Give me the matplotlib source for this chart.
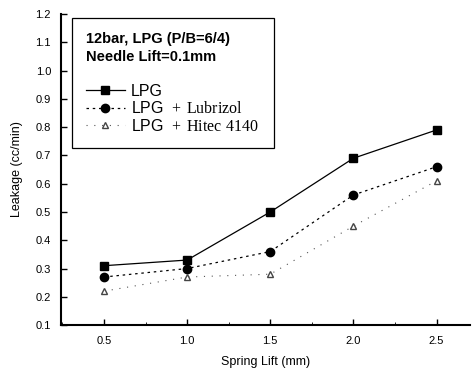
import numpy as np
import matplotlib
matplotlib.use('Agg')
import matplotlib.pyplot as plt
from matplotlib.ticker import MultipleLocator

plt.rcParams['font.family'] = ['Liberation Sans', 'DejaVu Sans']
plt.rcParams['mathtext.fontset'] = 'custom'
plt.rcParams['mathtext.rm'] = 'Liberation Serif'

# data
spring_lift = [0.5, 1.0, 1.5, 2.0, 2.5]
lpg = [0.31, 0.33, 0.50, 0.69, 0.79]
lubrizol = [0.27, 0.30, 0.36, 0.56, 0.66]
hitec = [0.22, 0.27, 0.28, 0.45, 0.61]
labels = ['LPG', r'LPG  $\mathrm{+\ Lubrizol}$', r'LPG  $\mathrm{+\ Hitec\ 4140}$']

fig = plt.figure(figsize=(4.75, 3.69), dpi=100)
ax = fig.add_axes([0.128, 0.119, 0.861, 0.843])

ax.plot(spring_lift, lpg, '-', color='black', lw=0.9, marker='s', ms=5.5, label=labels[0])
ax.plot(spring_lift, lubrizol, color='black', lw=0.9, ls=(0, (2, 3)), marker='o', ms=6,
        label=labels[1])
ax.plot(spring_lift, hitec, color='#555555', lw=0.8, ls=(0, (1, 6)), marker='^', ms=4.5,
        mfc='white', mec='#444444', label=labels[2])

ax.set_xlim(0.24, 2.7)
ax.set_ylim(0.1, 1.2)
ax.xaxis.set_major_locator(MultipleLocator(0.5))
ax.xaxis.set_minor_locator(MultipleLocator(0.25))
ax.yaxis.set_major_locator(MultipleLocator(0.1))
ax.tick_params(direction='in', length=4, width=1, labelsize=8)
ax.tick_params(axis='y', pad=7)
ax.tick_params(axis='x', pad=8)
ax.tick_params(which='minor', direction='in', length=2)
ax.spines['top'].set_visible(False)
ax.spines['right'].set_visible(False)
ax.spines['left'].set_linewidth(1.5)
ax.spines['bottom'].set_linewidth(1.5)

ax.set_xlabel('Spring Lift (mm)', fontsize=9, labelpad=7)
ax.set_ylabel('Leakage (cc/min)', fontsize=9, labelpad=9)

leg = ax.legend(loc='upper left', bbox_to_anchor=(0.027, 0.987), borderaxespad=0,
                title='12bar, LPG (P/B=6/4)\nNeedle Lift=0.1mm\n',
                title_fontproperties={'weight': 'bold', 'size': 10.5},
                fontsize=11.5, fancybox=False, edgecolor='black', framealpha=1,
                handlelength=2.4, handletextpad=0.4, labelspacing=0.1, borderpad=0.9)
leg._legend_box.align = 'left'
leg.get_title().set_linespacing(1.35)
leg.get_frame().set_linewidth(0.9)

fig.savefig('out.png', dpi=100)
